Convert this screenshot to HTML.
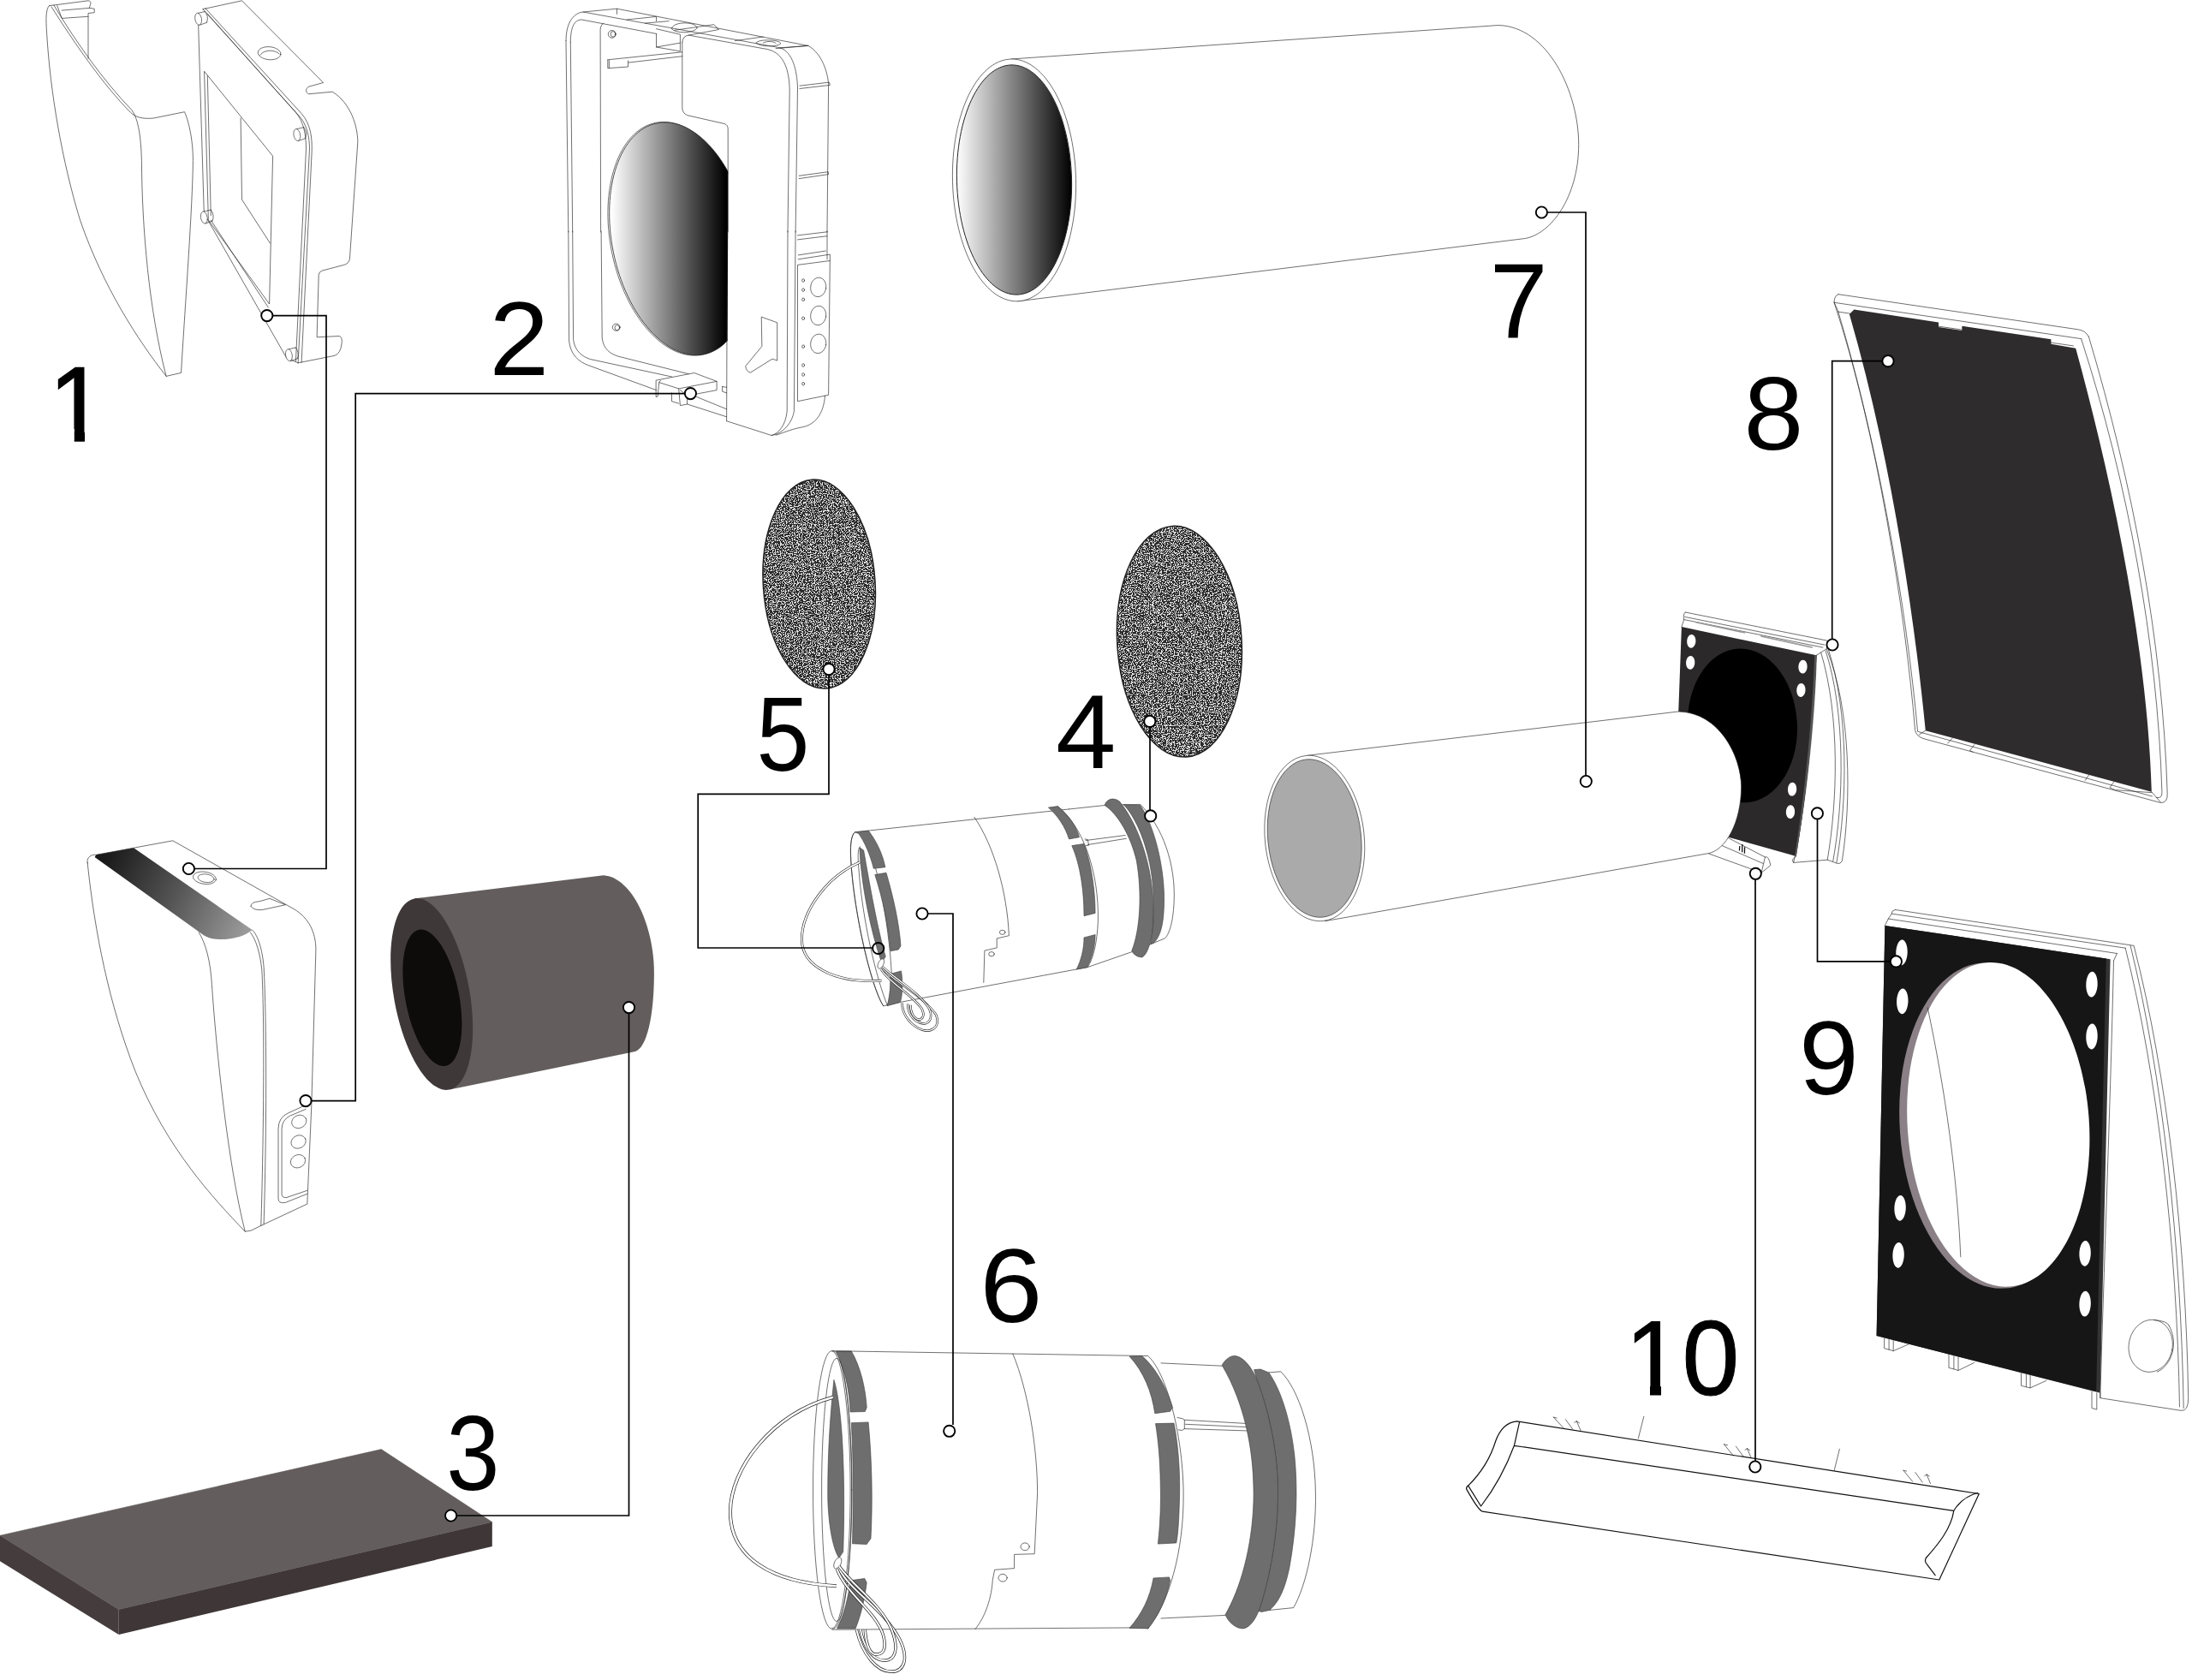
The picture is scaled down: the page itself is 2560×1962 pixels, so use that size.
<!DOCTYPE html>
<html><head><meta charset="utf-8"><title>Exploded view</title>
<style>
html,body{margin:0;padding:0;background:#fff;}
svg{display:block}
.o{fill:none;stroke:#222;stroke-width:.65;stroke-linejoin:round;stroke-linecap:round}
.w{fill:#fff;stroke:#222;stroke-width:.65;stroke-linejoin:round}
.g{fill:#6e6e6e;stroke:#3a3a3a;stroke-width:.6;stroke-linejoin:round}
.c{fill:none;stroke:#000;stroke-width:1.7;stroke-linejoin:miter}
.cc{fill:#fff;stroke:#000;stroke-width:1.9}
</style></head><body>
<svg width="2560" height="1962" viewBox="0 0 2560 1962">
<defs>
<linearGradient id="gd" gradientUnits="userSpaceOnUse" x1="1117" y1="0" x2="1252" y2="0"><stop offset="0" stop-color="#fff"/><stop offset="1" stop-color="#000"/></linearGradient>
<linearGradient id="gd2" gradientUnits="userSpaceOnUse" x1="714" y1="0" x2="848" y2="0"><stop offset="0" stop-color="#fff"/><stop offset="1" stop-color="#000"/></linearGradient>
<linearGradient id="gs" gradientUnits="userSpaceOnUse" x1="125" y1="1000" x2="290" y2="1080"><stop offset="0" stop-color="#1a1a1a"/><stop offset="0.5" stop-color="#555"/><stop offset="1" stop-color="#999"/></linearGradient>
<filter id="nz" x="0" y="0" width="1" height="1" color-interpolation-filters="sRGB">
<feTurbulence type="fractalNoise" baseFrequency="0.8" numOctaves="1" seed="7" result="t"/>
<feColorMatrix in="t" type="matrix" values="0 0 0 0 0.17  0 0 0 0 0.17  0 0 0 0 0.17  3 3 3 0 -3.87" result="m"/>
<feComponentTransfer in="m"><feFuncA type="discrete" tableValues="0 1"/></feComponentTransfer>
<feComposite in2="SourceGraphic" operator="in"/>
</filter>
</defs>
<rect width="2560" height="1962" fill="#fff"/>
<g>
<path class="o" d="M2147.1,343.7 Q2142.1,345.1 2142.1,353.3 L2147.1,364.2 M2147.1,343.7 L2426.9,384.8 Q2435.7,386.1 2439.2,393" /><path class="o" d="M2439.3,392.9 C2490.6,564.6 2525.7,749.1 2531.2,926.3 Q2531.9,938.1 2523.1,937.4 L2247,862.8 Q2237.8,859.9 2236.6,852.5 C2224.8,712.2 2191.6,501.8 2142.1,353.4" /><path class="o" d="M2430.8,396.2 C2485.1,564.6 2519.4,749.1 2524.9,924.5 Q2525.7,933 2518.3,931.5" /><path class="o" d="M2142.1,353.3 L2431,395.7 M2147.1,364.2 L2421.4,403.9" /><path class="o" d="M2146.9,364.1 C2195.3,527.7 2226.7,712.2 2239.6,854.3 L2513.5,930" /><path fill="#2e2c2c" d="M2165.4,361.5 L2264,376.6 L2264,382 L2291.4,386.1 L2291.4,380.7 L2395.4,396.3 L2395.4,401.8 L2424.2,406.7 C2477.7,601.5 2509.1,786 2512.8,924.8 L2248.8,853.2 C2234.1,704.8 2206.4,527.7 2159.9,367 Z"/><path class="o" d="M2248.8,853.2 L2241.4,858 M2512.8,924.8 L2523.1,936.6 M2280.2,862.1 L2274.7,868 M2306,869.5 L2300.5,876.5 L2304.2,878.3 M2439.7,904.9 L2435.2,911.5 M2468.5,913.4 L2464,919.7 L2470.3,922.6 L2512.8,925.6" />
</g>
<g>
<path class="o" d="M1968.2,715 Q1965.4,717.1 1966.7,723.6 L1963.9,732.1 M1968.2,715 L2134.2,748.2 L2133.2,757.8 L2121.4,765.3 M1966.7,723.6 L2128.9,756.1 M1967.6,720.4 L2131,753.1" /><path fill="#9a9a9a" d="M1980.4,725.7 L2038.3,738.1 L2038.3,739.8 L1980.4,727.4 Z M2056.3,742 L2116.7,755.3 L2116.7,757 L2056.3,743.7 Z"/><path class="o" d="M2133.2,757.8 C2162.1,828.5 2162.1,935.7 2151.4,1005.3 Q2149.2,1009.6 2144.9,1008.1 L2134.2,1004.2 L2094.6,1007.4 L2093.1,1004.2 L2097.8,999.9" /><path class="o" d="M2126.7,762.1 C2149.2,837.1 2146,935.7 2134.2,1004.2 M2132.1,760 C2155.7,832.8 2153.5,935.7 2140.7,1005.9 M2135.3,758.3 C2159.5,832.8 2157.4,935.7 2144.9,1007.6" /><path class="o" d="M2121.4,765.3 C2119.2,850 2106.4,957.1 2094.6,1007.4" /><path fill="#2b2929" d="M1963.9,732.1 L2121.4,765.3 C2118.2,850 2108.5,935.7 2097.8,999.9 L2014.3,976.4 L1956.4,935.7 Z"/><path fill="#555" d="M2121.4,765.3 C2118.2,850 2108.5,935.7 2097.8,999.9 L2096.1,999.5 C2106.4,935.7 2116,850 2119.2,764.9 Z"/><path class="" d="M2098.8,844.1C2101.4,893.7 2074.9,935.4 2039.7,937.3C2004.5,939.1 1973.8,900.4 1971.2,850.7C1968.6,801.1 1995.1,759.4 2030.3,757.5C2065.5,755.7 2096.2,794.4 2098.8,844.1Z" fill="#000"/><path class="" d="M1980.4,749.1C1980.2,753.4 1977.7,756.9 1974.9,756.7C1972.0,756.6 1969.9,752.9 1970.2,748.5C1970.4,744.2 1972.9,740.7 1975.7,740.9C1978.6,741.0 1980.7,744.7 1980.4,749.1Z" fill="#fff"/><path class="" d="M1979.3,774.2C1979.1,778.5 1976.6,782.0 1973.8,781.8C1970.9,781.7 1968.8,778.0 1969.1,773.6C1969.3,769.3 1971.8,765.8 1974.6,766.0C1977.5,766.1 1979.6,769.8 1979.3,774.2Z" fill="#fff"/><path class="" d="M2110.6,778.9C2110.4,783.2 2107.9,786.7 2105.1,786.5C2102.2,786.4 2100.1,782.7 2100.4,778.3C2100.6,774.0 2103.1,770.5 2105.9,770.7C2108.8,770.8 2110.9,774.5 2110.6,778.9Z" fill="#fff"/><path class="" d="M2108.5,806.3C2108.3,810.6 2105.8,814.1 2103.0,813.9C2100.1,813.8 2098.0,810.1 2098.3,805.7C2098.5,801.4 2101.0,797.9 2103.8,798.1C2106.7,798.2 2108.8,801.9 2108.5,806.3Z" fill="#fff"/><path class="" d="M2098.2,922.0C2098.0,926.3 2095.5,929.8 2092.7,929.6C2089.8,929.5 2087.7,925.8 2088.0,921.4C2088.2,917.1 2090.7,913.6 2093.5,913.8C2096.4,913.9 2098.5,917.6 2098.2,922.0Z" fill="#fff"/><path class="" d="M2096.1,948.4C2095.9,952.7 2093.4,956.2 2090.6,956.0C2087.7,955.9 2085.6,952.2 2085.9,947.8C2086.1,943.5 2088.6,940.0 2091.4,940.2C2094.3,940.3 2096.4,944.0 2096.1,948.4Z" fill="#fff"/><path class="o" d="M2014.3,976.4 L2061.4,1001 Q2065.7,998.9 2067.8,1010.6 L2057.1,1019.2 L1995,996.7 M2061.4,1001 L2057.1,1019.2 M2010,987.1 L2059.3,1008.5" /><path fill="none" stroke="#111" stroke-width="1.3" d="M2031.4,993.5 L2031.8,988.1 M2034.6,995.2 L2034.8,986 M2037.4,996.7 L2037.6,989.2"/><path class="w" d="M1526.7,882.3 L1960.1,831 C2008.6,832 2033.6,884 2033.6,918.7 C2033.6,960.3 2015.5,993.2 1994.7,996.7 L1547.5,1075.7 Z"/><path class="w" d="M1592.9,972.9C1598.5,1026.3 1577.3,1072.2 1545.4,1075.5C1513.6,1078.9 1483.3,1038.4 1477.7,985.1C1472.1,931.7 1493.3,885.8 1525.2,882.5C1557.0,879.1 1587.3,919.6 1592.9,972.9Z" /><path class="" d="M1589.3,973.3C1594.7,1024.2 1574.8,1067.9 1544.9,1071.1C1515.0,1074.2 1486.4,1035.5 1481.1,984.7C1475.7,933.8 1495.6,890.1 1525.5,886.9C1555.4,883.8 1584.0,922.5 1589.3,973.3Z" fill="#aaaaaa" stroke="#444" stroke-width="0.8"/>
</g>
<g>
<path class="o" d="M2213.2,1062.4 L2492.1,1104.4 C2531.3,1255.7 2552.9,1452.1 2555.7,1632.7 Q2555.7,1648.4 2547,1647.3 L2452.8,1632.7 L2452.8,1626.8" /><path class="o" d="M2488.1,1104.4 C2525.4,1255.7 2547,1452.1 2550.2,1644.5 M2482.2,1107.2 C2519.5,1255.7 2542.3,1452.1 2545.5,1642.9 M2209.3,1067.1 L2482.2,1107.2 M2205.3,1073 L2472.4,1113.5 M2472.4,1113.5 L2468.5,1122.1 M2213.2,1062.4 Q2208.5,1064 2209.3,1067.1 L2205.3,1073 L2201.4,1080.9" /><path class="o" d="M2468.5,1122.1 C2464.6,1294.9 2456.7,1491.3 2452.8,1632.7" /><path fill="#333" d="M2201.4,1080.9 L2464.6,1120.2 L2452.8,1626.8 L2191.6,1560.1 Z"/><path fill="#161616" d="M2201.4,1080.9 L2459.8,1119.4 L2448.1,1624.9 L2191.6,1560.1 Z"/><path class="" d="M2437.6,1307.0C2445.0,1411.9 2402.0,1500.4 2341.6,1504.6C2281.2,1508.9 2226.3,1427.2 2219.0,1322.2C2211.6,1217.3 2254.6,1128.8 2315.0,1124.6C2375.4,1120.3 2430.3,1202.0 2437.6,1307.0Z" fill="#8a8085"/><path class="" d="M2439.6,1306.0C2446.9,1410.5 2405.5,1498.6 2347.0,1502.6C2288.6,1506.7 2235.3,1425.3 2228.0,1320.8C2220.7,1216.3 2262.1,1128.2 2320.6,1124.2C2379.0,1120.1 2432.3,1201.5 2439.6,1306.0Z" fill="#fff"/><path class="o" d="M2251.3,1177.1 C2272.1,1275.3 2285.8,1373.5 2289.8,1467.8" /><path class="" d="M2227.7,1112.5C2227.4,1120.8 2224.2,1127.3 2220.5,1127.2C2216.8,1127.1 2214.0,1120.3 2214.3,1112.1C2214.6,1103.8 2217.8,1097.3 2221.5,1097.4C2225.2,1097.5 2228.0,1104.3 2227.7,1112.5Z" fill="#fff"/><path class="" d="M2228.5,1169.5C2228.2,1177.8 2225.0,1184.3 2221.3,1184.2C2217.6,1184.1 2214.8,1177.3 2215.1,1169.1C2215.4,1160.8 2218.6,1154.3 2222.3,1154.4C2226.0,1154.5 2228.8,1161.3 2228.5,1169.5Z" fill="#fff"/><path class="" d="M2225.8,1411.0C2225.5,1419.3 2222.3,1425.8 2218.6,1425.7C2214.9,1425.6 2212.1,1418.8 2212.4,1410.6C2212.7,1402.3 2215.9,1395.8 2219.6,1395.9C2223.3,1396.0 2226.1,1402.8 2225.8,1411.0Z" fill="#fff"/><path class="" d="M2223.8,1466.0C2223.5,1474.3 2220.3,1480.8 2216.6,1480.7C2212.9,1480.6 2210.1,1473.8 2210.4,1465.6C2210.7,1457.3 2213.9,1450.8 2217.6,1450.9C2221.3,1451.0 2224.1,1457.8 2223.8,1466.0Z" fill="#fff"/><path class="" d="M2449.7,1149.8C2449.4,1158.1 2446.2,1164.6 2442.5,1164.5C2438.8,1164.4 2436.0,1157.6 2436.3,1149.4C2436.6,1141.1 2439.8,1134.6 2443.5,1134.7C2447.2,1134.8 2450.0,1141.6 2449.7,1149.8Z" fill="#fff"/><path class="" d="M2449.7,1210.7C2449.4,1219.0 2446.2,1225.5 2442.5,1225.4C2438.8,1225.3 2436.0,1218.5 2436.3,1210.3C2436.6,1202.0 2439.8,1195.5 2443.5,1195.6C2447.2,1195.7 2450.0,1202.5 2449.7,1210.7Z" fill="#fff"/><path class="" d="M2441.8,1464.0C2441.5,1472.3 2438.3,1478.8 2434.6,1478.7C2430.9,1478.6 2428.1,1471.8 2428.4,1463.6C2428.7,1455.3 2431.9,1448.8 2435.6,1448.9C2439.3,1449.0 2442.1,1455.8 2441.8,1464.0Z" fill="#fff"/><path class="" d="M2441.8,1522.9C2441.5,1531.2 2438.3,1537.7 2434.6,1537.6C2430.9,1537.5 2428.1,1530.7 2428.4,1522.5C2428.7,1514.2 2431.9,1507.7 2435.6,1507.8C2439.3,1507.9 2442.1,1514.7 2441.8,1522.9Z" fill="#fff"/><path class="o" d="M2536.8,1576.2C2533.9,1592.9 2520.3,1604.4 2506.4,1602.0C2492.5,1599.5 2483.6,1584.0 2486.6,1567.4C2489.5,1550.7 2503.1,1539.2 2517.0,1541.6C2530.9,1544.1 2539.8,1559.6 2536.8,1576.2Z" /><path class="o" d="M2515.6,1541.6 Q2531.3,1542.4 2533.3,1548.3 M2533.3,1548.3 C2545.1,1569.9 2535.3,1595.4 2519.5,1602.1" /><path class="o" d="M2200.6,1562.8 L2200.6,1574.6 L2206.1,1576.2 L2206.1,1564 M2211.2,1565.2 L2211.2,1577.7 L2206.1,1576.2 M2211.2,1577.7 L2228.9,1569.9 M2276,1581.7 L2276,1597.4 L2281.9,1598.9 L2281.9,1583.6 M2287,1584.8 L2287,1600.5 L2281.9,1598.9 M2287,1600.5 L2305.5,1591.5 M2360.5,1603.7 L2360.5,1618.2 L2366.4,1619.8 L2366.4,1605.2 M2371.1,1606.4 L2371.1,1620.9 L2366.4,1619.8 M2371.1,1620.9 L2389.9,1612.3 M2443,1624.9 L2443,1644.5 L2448.8,1646.1 L2448.8,1626.8" />
</g>
<g>
<path class="w" d="M1180.7,69 L1749.8,29.5 C1807.3,30.7 1843.7,107.3 1843.7,168.6 C1843.7,229.9 1811.1,274 1780.4,278.6 L1188.4,351.8 Z"/><path class="w" d="M1256.5,208.5C1258.6,286.6 1228.0,350.7 1188.2,351.8C1148.4,352.8 1114.5,290.4 1112.5,212.3C1110.4,134.2 1141.0,70.1 1180.8,69.0C1220.6,68.0 1254.5,130.4 1256.5,208.5Z" /><path class="" d="M1251.5,208.2C1253.5,282.3 1225.0,343.1 1188.0,344.1C1151.0,345.0 1119.4,285.8 1117.5,211.8C1115.5,137.7 1144.0,76.9 1181.0,75.9C1218.0,75.0 1249.6,134.2 1251.5,208.2Z" fill="url(#gd)" stroke="#222" stroke-width="1"/>
</g>
<g>
<clipPath id="cp2"><path d="M640,0 L850.2,0 L850.2,269.3 L849.4,443.4 L640,443.4 Z"/></clipPath><g clip-path="url(#cp2)"><path class="w" d="M871.8,262.8C887.0,337.6 864.1,405.4 820.8,414.2C777.4,423.1 729.8,369.6 714.6,294.8C699.4,220.0 722.3,152.2 765.6,143.4C809.0,134.5 856.6,188.0 871.8,262.8Z" /><path class="" d="M872.8,262.9C888.0,337.4 865.3,405.0 822.1,413.7C778.9,422.5 731.5,369.2 716.4,294.7C701.2,220.2 723.9,152.6 767.1,143.9C810.3,135.1 857.7,188.4 872.8,262.9Z" fill="url(#gd2)" stroke="#222" stroke-width="0.8"/></g><path class="o" d="M661,47.6 C661,24.6 671.2,14.8 681.1,14 L911,55.8 C925.8,60.8 930.7,82.1 931.5,101.8 L929.1,271" /><path class="o" d="M929.1,270 L927.4,480.2 C925.8,491.7 915.9,506.5 901.1,508.5 L848.6,491.7 M920,270 L919.2,480.2 C917.6,496.6 909.3,506.5 901.1,508.5" /><path class="o" d="M661,47.6 L663.8,271 M666.3,49.3 C666.3,27.9 672.8,23 679.4,23 L766.5,39.4 M666.3,49.3 L668.7,271 M701.6,271 L701.1,34.5 Q701.6,28.7 704.9,27.1" /><path class="o" d="M663.8,270 L664.6,398.1 C666.3,414.5 676.1,422.7 687.6,426.8 L766.5,455.6 M668.7,270 L669.6,396.5 C671.2,409.6 679.4,416.2 689.3,419.5 L784.5,440 M702.1,270 L703.2,394.8 C704.9,408 712.3,412.9 722.1,416.2 L804.2,436.7" /><path class="o" d="M796.8,49.3 Q797.3,41.9 804.2,41.1 L896.2,57.5 C917.6,62.4 921.7,85.4 922.2,105.1 L920,271 M796.8,49.3 L796.8,124.8 C796.8,131.4 800.1,133.9 804.2,135 L846.1,144.5 Q850.2,146.2 850.2,150.3 L850.2,271" /><path class="o" d="M849.4,270 L848.6,491.7" /><path class="o" d="M681.1,14 L720.5,10.2 L720.5,16.4 M720.5,10.2 L943.8,53.4 M911,55.8 L943.8,53.4 C960.3,62.4 966.8,85.4 967.6,98.5 L966,271 M934,100.2 L968.5,96.1 L969.3,99.4 L934,103.5 M933.2,205.3 L967.2,200.7 L967.6,203.6 L933.2,208.6" /><path class="o" d="M732,23 L766.5,19.4 L766.5,24.6 M753.3,27.1 L781.2,24.6 M766.5,39.4 L766.5,55 L794.4,59.9 L794.4,40.2 L766.5,33.7 M766.5,55 L794.4,50.1 M784.5,33.7 C784.5,24.6 814.1,24.6 814.1,32.8 M784.5,33.7 C787.8,39.4 810.8,39.4 814.1,32.8 M787.8,35.3 L833.8,28.7 L839.5,34.5 L804.2,41.1 M858.4,47.6 L891.3,43 M883.1,50.1 C884.7,45.2 911,46 911.8,50.9 C909.3,55 886.4,55 883.1,50.1 M891.3,50.1 C894.6,47.6 904.4,48 906.1,50.6 M906.1,56.7 L943.8,53.4" /><path class="o" d="M709.8,69.8 L796.8,60.8 M709.8,69.8 L709.8,79.7 L733.6,78 L733.6,70.9 M711.4,70.6 L711.4,79.2 M733.9,73.1 L796.8,65.7" /><ellipse class="o" cx="714.7" cy="39.9" rx="4.4" ry="4.4" /><ellipse class="o" cx="716" cy="39.9" rx="2.8" ry="3.3" /><ellipse class="o" cx="719.7" cy="382.2" rx="4.4" ry="4.1" /><ellipse class="o" cx="720.8" cy="382.7" rx="2.8" ry="3" /><path class="o" d="M966,270 L966,302.8 M931.5,274.9 L966,270.8 M931.5,279.9 L966,275.7 M932.3,297.9 L964.4,293 M932.3,302.8 L969.3,297.1 L969.3,304.5 L967.6,461.3 L931.5,468.7 L931.5,309.4 L969.3,304.5 M963.5,462.2 C961.9,483.5 952,496.6 935.6,499.1 C922.5,501.6 912.6,506.5 906.1,508.1" /><path class="o" d="M964.6,336.7C963.8,342.8 959.1,347.2 954.1,346.5C949.2,345.8 945.9,340.3 946.8,334.1C947.6,328.0 952.3,323.6 957.3,324.3C962.2,325.0 965.5,330.5 964.6,336.7Z" /><path class="o" d="M964.6,369.8C963.8,375.9 959.1,380.3 954.1,379.6C949.2,378.9 945.9,373.4 946.8,367.2C947.6,361.1 952.3,356.7 957.3,357.4C962.2,358.1 965.5,363.6 964.6,369.8Z" /><path class="o" d="M964.6,402.7C963.8,408.8 959.1,413.2 954.1,412.5C949.2,411.8 945.9,406.3 946.8,400.1C947.6,394.0 952.3,389.6 957.3,390.3C962.2,391.0 965.5,396.5 964.6,402.7Z" /><ellipse class="o" cx="938.1" cy="327.5" rx="1.5" ry="1.8" /><ellipse class="o" cx="938.1" cy="338.6" rx="1.5" ry="1.8" /><ellipse class="o" cx="938.1" cy="349.8" rx="1.5" ry="1.8" /><ellipse class="o" cx="938.1" cy="371.8" rx="1.5" ry="1.8" /><ellipse class="o" cx="938.1" cy="404.7" rx="1.5" ry="1.8" /><ellipse class="o" cx="938.1" cy="426.5" rx="1.5" ry="1.8" /><ellipse class="o" cx="938.1" cy="437.5" rx="1.5" ry="1.8" /><ellipse class="o" cx="938.1" cy="448.2" rx="1.5" ry="1.8" /><path class="o" d="M889.6,370.2 L907.7,376.8 L907.7,421.1 L902,419.1 L876.5,435.1 Q871.6,434.2 870.7,427.7 L889.6,404.7 Z" /><path class="o" d="M766.5,444.1 L810.8,435.5 L837.1,445.4 L837.1,455.6 L802.6,462.2 L802.6,472 L794.4,473.6 L792.7,453.9 L769.7,446.6 L768.1,463 L766.5,463.5 Z M769.7,446.6 L771.4,444.4 M792.7,453.9 L837.1,445.4 M802.6,462.2 L794.4,455.6 M784.5,458.9 L784.5,468.7 L792.7,471.2 M802.6,472 L848.6,486.8 M812.4,463 L848.6,477.8 M843.6,451.5 L848.6,452.3 M843.6,451.5 L843.6,457.2 L848.6,458.9" />
</g>
<g>
<path class="o" d="M57.4,6.7 L103,0.8 Q107,1.3 105.6,5.4 L104.3,9.4 L110.2,10.2 L110.2,14.7 L103,15.5 L103,68.3 M57.4,6.7 C53.4,10.7 53.4,21.4 54.7,40.2 C58.8,107.2 72.2,187.5 93.6,257.2 C120.4,334.9 160.6,396.5 194.1,439.4 L211.5,435.4 C216.8,348.3 224.9,241.1 225.4,187.5 C225.4,160.8 219.5,139.3 215.5,130.7 L179.3,138 C165.9,139.3 157.9,136.6 152.5,131.3 C120.4,99.1 85.5,48.2 60.1,8 M62.8,5.9 C88.2,48.2 120.4,93.8 153.9,128.6 C161.9,139.3 164.6,160.8 165.4,187.5 C165.9,267.9 174,361.7 194.1,439.4 M66.8,6.7 L72.2,21.4 L103,19.3 M72.2,12.1 L104.3,9.4" /><path class="o" d="M236.9,10.7 L282.5,0.8 L377.6,96.5 L360.2,101.3 Q354.8,105.8 360.2,109.8 L388.3,107.2 C409.7,120.6 417.8,147.4 417.8,166.1 L408.4,302.7 Q407,308.1 401.7,309.4 L376.2,316.1 Q372.2,317.5 372.2,321.5 L370.1,393.8 L396.3,392.5 Q400.3,393.8 399,401.9 Q397.7,412.6 391,415.3 L348.1,423.8" /><path class="o" d="M231.6,26.8 L238.3,249.2 L334.7,418 L348.1,423.8 M236.9,10.7 L348.1,134 C358.8,144.7 361.5,160.8 361.5,174.1 L348.1,423.8 M239.6,9.4 L352.1,132.6 C362.8,144.7 364.7,160.8 364.2,176.8 L352.1,423.3 M242.3,16.1 L345.4,131.3 C354.8,142 357.5,158.1 357.5,174.1 L345.4,422" /><path class="o" d="M238.8,83.6 L318.6,182.2 L314.6,355 L243.6,257.2 Z M281.1,138 L282.5,233.1 L315.4,284 M242.3,88.4 L246.3,251.8 M246.3,257.2 L313.3,359" /><path class="o" d="M327.9,63.4C327.6,67.5 321.3,70.3 313.9,69.7C306.6,69.0 300.9,65.2 301.3,61.0C301.6,56.9 307.9,54.1 315.3,54.7C322.6,55.4 328.3,59.2 327.9,63.4Z" /><path class="o" d="M303.9,64.3 C307.9,57.6 321.3,57.6 326.1,63" /><path class="w" d="M235.3,21.5C236.0,25.3 234.8,28.7 232.8,29.1C230.8,29.4 228.6,26.6 227.9,22.9C227.2,19.1 228.4,15.7 230.4,15.3C232.4,15.0 234.6,17.8 235.3,21.5Z" /><path class="o" d="M231.6,15.3 L239.6,13.4 M233.4,29.2 L241.5,26.3" /><path class="o" d="M239.6,13.4 Q244.2,19.3 241.5,26.3" /><path class="w" d="M350.5,156.8C351.2,160.6 350.0,164.0 348.0,164.4C346.0,164.7 343.8,161.9 343.1,158.2C342.4,154.4 343.6,151.0 345.6,150.6C347.6,150.3 349.8,153.1 350.5,156.8Z" /><path class="o" d="M346.8,150.6 L354.8,148.7 M348.6,164.5 L356.7,161.6" /><path class="o" d="M354.8,148.7 Q359.4,154.6 356.7,161.6" /><path class="w" d="M242.0,253.3C242.7,257.1 241.5,260.5 239.5,260.9C237.5,261.2 235.3,258.4 234.6,254.7C233.9,250.9 235.1,247.5 237.1,247.1C239.1,246.8 241.3,249.6 242.0,253.3Z" /><path class="o" d="M238.3,247 L246.3,245.1 M240.1,261 L248.2,258" /><path class="o" d="M246.3,245.1 Q250.9,251 248.2,258" /><path class="w" d="M341.1,414.0C341.8,417.8 340.6,421.2 338.6,421.6C336.6,421.9 334.4,419.1 333.7,415.4C333.0,411.6 334.2,408.2 336.2,407.8C338.2,407.5 340.4,410.3 341.1,414.0Z" /><path class="o" d="M337.4,407.8 L345.4,405.9 M339.3,421.7 L347.3,418.8" /><path class="o" d="M345.4,405.9 Q350,411.8 347.3,418.8" />
</g>
<g>
<path fill="url(#gs)" d="M112.3,998.3 L156.2,990.2 L294.6,1086.1 C286.2,1092.8 276.1,1096.2 262.6,1096.9 C249.1,1097.6 242.3,1095.5 235.5,1090.5 L110.6,1001 Z"/><path class="o" d="M102.2,1007.8 C100.5,1001 107.3,997.6 112.3,998.3 L156.2,990.2 L201.8,981.8 L343.6,1061.8 C360.5,1071.9 368.9,1088.8 368.9,1109.1 L363.8,1291.4 L358.8,1406.1 L308.1,1429.8 L292.9,1437.2 L286.2,1438.2 C249.1,1399.4 195,1342 157.9,1250.8 C127.5,1173.2 110.6,1088.8 102.2,1007.8 Z" /><path class="o" d="M308.1,1429.8 C311.5,1325.1 311.5,1190.1 308.1,1129.3 C306.4,1109.1 301.4,1092.2 294.6,1086.1 M286.2,1438.2 C265.9,1358.9 252.4,1223.8 247.4,1149.6 C245.7,1122.6 240.6,1102.3 232.2,1088.8 M304.8,1431.5 C308.1,1325.1 309.1,1190.1 305.8,1132.7 C303.7,1112.4 299,1097.2 292.3,1088.8" /><path class="o" d="M252.3,1027.2C251.7,1031.1 245.3,1033.4 237.9,1032.3C230.5,1031.3 225.0,1027.3 225.5,1023.4C226.1,1019.5 232.5,1017.2 239.9,1018.3C247.3,1019.3 252.8,1023.3 252.3,1027.2Z" /><path class="o" d="M250.0,1027.0C249.6,1029.6 245.1,1031.1 239.9,1030.4C234.8,1029.7 230.9,1027.0 231.2,1024.4C231.6,1021.8 236.1,1020.3 241.3,1021.0C246.4,1021.7 250.3,1024.4 250.0,1027.0Z" /><path class="o" d="M292.9,1058.4 Q292.9,1053.3 303.1,1052.7 L314.9,1049.3 L333.4,1056.7 L306.4,1062.5 Q296.3,1063.5 292.9,1058.4" /><path class="o" d="M358.8,1289.7 L336.8,1299.8 Q325,1304.9 325,1318.4 L325,1399.4 Q325,1406.1 333.4,1404.4 L358.8,1394.3 M357.1,1295.4 L338.5,1303.2 Q329.1,1308.2 329.1,1318.4 L329.1,1395.3 Q330.1,1399.4 335.1,1398.4 L358.8,1390.3" /><path class="o" d="M357.3,1306.2C359.0,1309.9 356.8,1314.6 352.4,1316.6C348.0,1318.7 343.1,1317.3 341.3,1313.6C339.6,1309.9 341.8,1305.2 346.2,1303.2C350.6,1301.1 355.5,1302.5 357.3,1306.2Z" /><path class="o" d="M356.6,1329.8C358.3,1333.5 356.1,1338.2 351.7,1340.2C347.3,1342.3 342.4,1340.9 340.6,1337.2C338.9,1333.5 341.1,1328.8 345.5,1326.8C349.9,1324.7 354.8,1326.1 356.6,1329.8Z" /><path class="o" d="M356.0,1352.5C357.7,1356.2 355.5,1360.9 351.1,1362.9C346.7,1365.0 341.8,1363.6 340.0,1359.9C338.3,1356.2 340.5,1351.5 344.9,1349.5C349.3,1347.4 354.2,1348.8 356.0,1352.5Z" />
</g>
<g>
<path fill="#635e5d" d="M484.9,1049.3 L704.8,1022.3 C738.6,1024.7 763.9,1082 763.9,1136.1 C763.9,1186.7 755.4,1223.8 741.9,1227.9 L524.8,1272.6 Z"/><path class="" d="M547.7,1153.1C558.9,1214.7 548.5,1268.2 524.5,1272.6C500.5,1277.0 471.9,1230.5 460.7,1168.9C449.5,1107.3 459.9,1053.8 483.9,1049.4C507.9,1045.0 536.5,1091.5 547.7,1153.1Z" fill="#3f3838"/><path class="" d="M535.7,1159.3C544.3,1203.2 537.4,1241.5 520.4,1244.8C503.3,1248.1 482.6,1215.2 474.1,1171.3C465.5,1127.4 472.4,1089.1 489.4,1085.8C506.5,1082.5 527.2,1115.4 535.7,1159.3Z" fill="#0e0b0b"/><path fill="#635e5d" stroke="#635e5d" stroke-width="0.6" d="M0,1793.3 L445.3,1692.6 L574.8,1777.6 L138.7,1879.8 Z"/><path fill="#453d3d" d="M0,1793.3 L138.7,1879.8 L138.7,1909 L0,1823.2 Z"/><path fill="#3f3737" d="M138.7,1879.8 L574.8,1777.6 L574.8,1806.1 L138.7,1909 Z"/>
</g>
<g>
<path class="" d="M1021.9,677.7C1026.4,745.0 1001.0,801.6 965.0,804.0C929.0,806.5 896.1,753.9 891.5,686.5C887.0,619.2 912.4,562.6 948.4,560.2C984.4,557.7 1017.3,610.3 1021.9,677.7Z" fill="#e2e2e2"/><path class="" d="M1021.9,677.7C1026.4,745.0 1001.0,801.6 965.0,804.0C929.0,806.5 896.1,753.9 891.5,686.5C887.0,619.2 912.4,562.6 948.4,560.2C984.4,557.7 1017.3,610.3 1021.9,677.7Z" fill="#2c2c2c" filter="url(#nz)"/><path class="" d="M1021.9,677.7C1026.4,745.0 1001.0,801.6 965.0,804.0C929.0,806.5 896.1,753.9 891.5,686.5C887.0,619.2 912.4,562.6 948.4,560.2C984.4,557.7 1017.3,610.3 1021.9,677.7Z" fill="none" stroke="#222" stroke-width="1.5"/><path class="" d="M1449.9,744.8C1454.5,819.2 1425.7,881.5 1385.6,884.0C1345.6,886.4 1309.4,828.1 1304.9,753.6C1300.3,679.2 1329.1,616.9 1369.2,614.4C1409.2,612.0 1445.4,670.3 1449.9,744.8Z" fill="#e2e2e2"/><path class="" d="M1449.9,744.8C1454.5,819.2 1425.7,881.5 1385.6,884.0C1345.6,886.4 1309.4,828.1 1304.9,753.6C1300.3,679.2 1329.1,616.9 1369.2,614.4C1409.2,612.0 1445.4,670.3 1449.9,744.8Z" fill="#2c2c2c" filter="url(#nz)"/><path class="" d="M1449.9,744.8C1454.5,819.2 1425.7,881.5 1385.6,884.0C1345.6,886.4 1309.4,828.1 1304.9,753.6C1300.3,679.2 1329.1,616.9 1369.2,614.4C1409.2,612.0 1445.4,670.3 1449.9,744.8Z" fill="none" stroke="#222" stroke-width="1.5"/>
</g>
<g>
<path class="w" d="M998.8,971.8 L1014.2,970.1 L1290.1,940.5 L1331.7,939.4 C1358,965.7 1373.3,1009.5 1371.1,1053.3 C1370,1079.6 1364.5,1092.7 1360.1,1096 L1322.9,1111.3 L1270.4,1129.5 L1051.4,1170.4 L1031.7,1174.8 C1016.4,1151.8 994.5,1053.3 993.4,994.2 C993.4,981 995.5,973.4 998.8,971.8 Z"/><path class="o" d="M998.8,971.8 C995.5,973.4 993.4,981 993.4,994.2 C994.5,1053.3 1016.4,1151.8 1031.7,1174.8 M1004.3,988.7 C1001,992 1002.1,1005.1 1003.2,1018.2 C1007.6,1075.2 1022.9,1140.9 1036.1,1173.7 M1007.6,972.3 C1022.9,998.5 1038.2,1075.2 1041.5,1140.9 C1042.2,1158.4 1040.4,1169.3 1036.1,1173.7" /><path fill="none" stroke="#222" stroke-width="2.9" d="M1004.3,1006.9 C964.9,1023.7 936.4,1064.7 936.4,1097.1 C936.4,1128.8 975.2,1148.5 1029.5,1145.3"/><path fill="none" stroke="#fff" stroke-width="1.7" d="M1004.3,1006.9 C964.9,1023.7 936.4,1064.7 936.4,1097.1 C936.4,1128.8 975.2,1148.5 1029.5,1145.3"/><path class="g" d="M1003.9,989.8 C1005.4,1031.4 1016.4,1086.1 1029.5,1123.8 L1034.3,1117.2 C1025.1,1086.1 1015.3,1031.4 1008.7,993.1 Z"/><path class="g" d="M998.8,971.8 L1014.2,970.1 C1022.9,981 1030.6,996.4 1033.9,1012.8 L1020.3,1014.3 C1016.4,998.5 1009.8,983.2 1002.8,973.6 Z M1021.8,1021.5 L1035,1019.3 C1043.7,1048.9 1050.3,1079.6 1052,1104.7 L1049.2,1109.1 L1040,1110.7 C1037.2,1079.6 1030.6,1048.9 1021.8,1021.5 Z M1039.3,1137.6 L1052.5,1133.9 C1054.7,1147.4 1054,1162.8 1051.4,1170.4 L1036.1,1174.8 C1039.3,1162.8 1040.4,1149.6 1039.3,1137.6 Z"/><path class="o" d="M1137.9,954.3 C1160.9,987.6 1176.2,1042.3 1178.4,1092.7 L1164.2,1096 L1164.2,1106.9 L1149.9,1110.2 L1148.8,1147.4" /><ellipse class="o" cx="1170.7" cy="1088.8" rx="3.3" ry="2.6" /><ellipse class="o" cx="1158" cy="1114.2" rx="3.3" ry="2.6" /><path class="o" d="M1235.3,941.6 C1266,965.7 1283.5,1020.4 1282.4,1075.2 C1281.3,1101.5 1276.9,1119 1270.4,1129.5 M1248.5,944.9 L1248.5,944.9" /><path class="g" d="M1224.4,943.1 L1235.3,941.6 C1248.5,952.6 1257.2,965.7 1260.5,977.7 L1248.5,979.9 C1244.1,965.7 1235.3,952.6 1224.4,943.1 Z M1251.8,987.6 L1266,985.4 C1274.7,1009.5 1279.1,1040.1 1279.1,1066.4 L1266,1069.7 C1266,1040.1 1261.6,1009.5 1251.8,987.6 Z M1266,1094.9 L1279.1,1091.6 C1279.1,1105.8 1274.7,1121.2 1269.3,1129.9 L1257.2,1132.1 C1262.7,1121.2 1266,1108 1266,1094.9 Z"/><path class="o" d="M1268.2,981.5 L1314.2,975.5 M1270.4,986.5 L1315.3,979.3 M1267.1,979.9 L1270.4,980.6 L1271.5,987.2 L1268.2,987.6" /><path class="g" d="M1290.1,940.5 C1292.3,932.8 1301,930.7 1307.6,936.1 C1331.7,965.7 1349.2,1020.4 1347,1075.2 C1345.9,1097.1 1340.4,1114.6 1333.9,1117.9 C1327.3,1117.9 1322.9,1113.5 1321.8,1110.2 C1331.7,1086.1 1333.9,1042.3 1327.3,1005.1 C1320.7,976.6 1305.4,950.4 1290.1,940.5 Z"/><path class="g" d="M1312,939.4 L1331.7,940.5 C1349.2,965.7 1362.3,1020.4 1359.1,1064.2 C1358,1086.1 1352.5,1097.1 1347,1101.5 L1343.7,1102.6 C1349.2,1075.2 1349.2,1031.4 1340.4,998.5 C1333.9,972.3 1322.9,950.4 1312,939.4 Z"/><path class="w" d="M1031.6,1126.8C1030.1,1129.9 1027.7,1131.8 1026.2,1131.1C1024.7,1130.3 1024.6,1127.3 1026.0,1124.2C1027.5,1121.1 1029.9,1119.2 1031.4,1119.9C1032.9,1120.7 1033.0,1123.7 1031.6,1126.8Z" /><path fill="none" stroke="#222" stroke-width="2.5" d="M1029.5,1129.9 C1042.6,1145.3 1077.7,1162.8 1093,1184.7 C1099.6,1200 1086.4,1208.8 1071.1,1200 C1060.1,1193.4 1053.6,1182.5 1053.6,1171.5"/><path fill="none" stroke="#fff" stroke-width="1.3" d="M1029.5,1129.9 C1042.6,1145.3 1077.7,1162.8 1093,1184.7 C1099.6,1200 1086.4,1208.8 1071.1,1200 C1060.1,1193.4 1053.6,1182.5 1053.6,1171.5"/><path fill="none" stroke="#222" stroke-width="2.5" d="M1030.6,1128.8 C1044.8,1143.1 1073.3,1158.4 1085.3,1178.1 C1090.8,1191.2 1083.1,1197.8 1074.4,1194.5 C1065.6,1191.2 1060.1,1182.5 1060.1,1172.6"/><path fill="none" stroke="#fff" stroke-width="1.3" d="M1030.6,1128.8 C1044.8,1143.1 1073.3,1158.4 1085.3,1178.1 C1090.8,1191.2 1083.1,1197.8 1074.4,1194.5 C1065.6,1191.2 1060.1,1182.5 1060.1,1172.6"/><path fill="none" stroke="#222" stroke-width="2.5" d="M1029.1,1132.1 C1038.2,1147.4 1064.5,1160.6 1076.6,1178.1 C1080.9,1186.9 1076.6,1192.3 1071.1,1190.1 C1065.6,1188 1063.4,1180.3 1063.4,1173.7"/><path fill="none" stroke="#fff" stroke-width="1.3" d="M1029.1,1132.1 C1038.2,1147.4 1064.5,1160.6 1076.6,1178.1 C1080.9,1186.9 1076.6,1192.3 1071.1,1190.1 C1065.6,1188 1063.4,1180.3 1063.4,1173.7"/>
</g>
<g>
<path fill="#fff" d="M971.9,1577.7 L1339.9,1583.5 L1427.7,1594.6 L1454.7,1588.5 L1486.7,1602 L1498.6,1602.7 C1522.2,1629.1 1536.4,1693.2 1535.7,1743.8 C1535,1797.8 1522.2,1855.2 1501.9,1878.9 L1490.1,1878.9 L1461.4,1895.7 L1431,1885.6 L1346.6,1889 L1341.6,1900.8 L971.9,1903.2 C958.4,1878.9 950,1811.4 950,1740.5 C950,1669.6 958.4,1602 971.9,1577.7 Z"/><ellipse class="w" cx="973" cy="1739.9" rx="22" ry="162.2" /><ellipse class="w" cx="971.3" cy="1739.9" rx="21.8" ry="162.2" /><ellipse class="o" cx="977.1" cy="1739.9" rx="17.5" ry="153.6" /><path class="g" d="M973.9,1611.4 C969.2,1655.7 966.3,1703.5 966.8,1751.4 C968,1787.2 973.9,1811.1 979.9,1819.5 L984.7,1812.3 C985.9,1775.3 986.4,1727.4 983.5,1679.6 C981.1,1643.7 977.5,1622.2 973.9,1611.4 Z"/><path class="g" d="M976.3,1577.9 L994.3,1577.9 C1005,1595.9 1011,1622.2 1012.2,1643.7 L1010.3,1648.5 L993.1,1649 C991.9,1622.2 985.9,1595.9 976.3,1577.9 Z M994.3,1661.7 L1014.1,1660.9 C1018.2,1703.5 1019.4,1751.4 1017,1796.8 L1012.2,1803.5 L995.5,1802.8 C996.7,1751.4 996.7,1703.5 994.3,1661.7 Z M993.1,1845.8 L1009.8,1843.4 L1012.2,1848.2 C1009.8,1868.6 1005,1887.7 999.1,1902 L977.5,1902 C985.9,1885.3 990.7,1866.2 993.1,1845.8 Z"/><path fill="none" stroke="#222" stroke-width="4" d="M972.8,1631.8 C899.8,1652.1 852.9,1715.5 852.9,1765.7 C852.9,1818.3 899.8,1848.2 976.8,1852.3"/><path fill="none" stroke="#fff" stroke-width="2.6" d="M972.8,1631.8 C899.8,1652.1 852.9,1715.5 852.9,1765.7 C852.9,1818.3 899.8,1848.2 976.8,1852.3"/><path class="o" d="M971.9,1577.7 L1339.9,1583.5 M971.9,1903.2 L1341.6,1900.8" /><path class="o" d="M1182.9,1581.1 C1201.5,1625.7 1211.6,1693.2 1211.6,1743.8 L1208.2,1814.7 L1184.6,1815.4 L1184.6,1831.6 L1161.6,1833.3 L1159.3,1845.1 C1157.6,1872.1 1147.5,1892.4 1139,1902.5" /><ellipse class="o" cx="1197.1" cy="1806.3" rx="5.1" ry="4.4" /><ellipse class="o" cx="1171.1" cy="1842.7" rx="5.1" ry="4.4" /><path class="o" d="M1340.5,1583.3 C1361.9,1601.9 1381,1673.3 1382.1,1742.4 C1382.9,1813.8 1364.3,1873.3 1340.5,1902.4 M1356,1591.9 L1427.4,1595.2 M1356,1890 L1431,1886.4" /><path class="g" d="M1319,1584 L1333.3,1583.3 C1347.6,1594.8 1361.9,1618.6 1369.5,1643.6 L1366.7,1648.3 L1348.8,1650.7 C1345.2,1625.7 1335.7,1601.9 1319,1584 Z M1349.5,1662.6 L1371,1662.1 C1376.2,1687.6 1378.6,1721 1377.4,1754.3 C1376.7,1778.1 1375.7,1792.4 1373.8,1801.9 L1352.4,1803.1 C1355.2,1778.1 1356,1754.3 1355.2,1730.5 C1354.8,1706.7 1352.9,1682.9 1349.5,1662.6 Z M1347.1,1842.9 L1365.5,1841.9 L1366.7,1846 C1361.9,1868.6 1352.4,1887.6 1340.5,1901.9 L1319,1901.4 C1333.3,1885.2 1342.9,1866.2 1347.1,1842.9 Z"/><path class="o" d="M1383.3,1658.3 L1458.3,1662.6 M1383.3,1668.6 L1458.3,1671 M1384.5,1663.3 L1458.3,1666.7 M1375,1655.5 L1381,1656.7 L1383.3,1658.3 L1383.3,1668.6 L1380.5,1670.5 L1376.2,1669.8" /><path class="w" d="M1481.8,1602.9 L1495.7,1601.8 C1517.1,1622.1 1535.4,1680 1536.4,1742.1 C1537.5,1797.9 1525.7,1851.4 1510.7,1877.6 L1482.9,1880.4 Z"/><path class="g" d="M1464.6,1599.6 L1472.1,1599 L1481.8,1602.9 C1496.8,1624.3 1507.5,1660.7 1511.8,1699.3 C1516.1,1742.1 1513.9,1785 1506.4,1827.9 C1501.1,1855.7 1493.6,1870.7 1482.9,1880.4 L1473.2,1882.5 L1470,1881.4 C1482.9,1845 1492.5,1791.4 1492.5,1742.1 C1492.5,1699.3 1482.9,1650 1467.9,1611.4 Z"/><path class="g" d="M1427.1,1594.3 C1431.4,1586.8 1437.9,1582.5 1443.2,1583.6 C1452.9,1585.3 1461.4,1596.4 1467.9,1611.4 C1482.9,1650 1492.5,1699.3 1492.5,1742.1 C1492.5,1791.4 1482.9,1845 1470,1881.4 C1463.6,1897.5 1455,1902.9 1449.6,1901.8 C1442.1,1900.7 1434.6,1894.3 1431,1885.7 C1448.6,1855.7 1462.5,1806.4 1464,1752.9 C1465.3,1699.3 1455,1641.4 1427.1,1594.3 Z"/><path class="w" d="M981.8,1827.1C980.1,1830.7 977.2,1832.9 975.3,1832.0C973.4,1831.1 973.2,1827.5 974.8,1823.9C976.5,1820.3 979.4,1818.1 981.3,1819.0C983.2,1819.9 983.4,1823.5 981.8,1827.1Z" /><path fill="none" stroke="#222" stroke-width="3.4" d="M978.7,1830.3 C993.1,1859 1031.4,1878.1 1050.5,1914 C1062.4,1937.9 1055.3,1952.3 1040.9,1952.3 C1024.2,1952.3 1007.4,1933.1 1000.3,1903.2"/><path fill="none" stroke="#fff" stroke-width="2" d="M978.7,1830.3 C993.1,1859 1031.4,1878.1 1050.5,1914 C1062.4,1937.9 1055.3,1952.3 1040.9,1952.3 C1024.2,1952.3 1007.4,1933.1 1000.3,1903.2"/><path fill="none" stroke="#222" stroke-width="3.4" d="M979.9,1829.1 C997.9,1854.2 1026.6,1870.9 1040.9,1902 C1050.5,1926 1045.7,1940.3 1031.4,1939.1 C1017,1937.9 1007.4,1918.8 1005,1903.2"/><path fill="none" stroke="#fff" stroke-width="2" d="M979.9,1829.1 C997.9,1854.2 1026.6,1870.9 1040.9,1902 C1050.5,1926 1045.7,1940.3 1031.4,1939.1 C1017,1937.9 1007.4,1918.8 1005,1903.2"/><path fill="none" stroke="#222" stroke-width="3.4" d="M977.5,1832.7 C988.3,1861.4 1021.8,1880.5 1031.4,1909.2 C1036.1,1926 1031.4,1933.1 1021.8,1931.9 C1014.6,1930.7 1011,1916.4 1010.3,1903.2"/><path fill="none" stroke="#fff" stroke-width="2" d="M977.5,1832.7 C988.3,1861.4 1021.8,1880.5 1031.4,1909.2 C1036.1,1926 1031.4,1933.1 1021.8,1931.9 C1014.6,1930.7 1011,1916.4 1010.3,1903.2"/>
</g>
<g>
<path class="w" style="stroke:#111;stroke-width:1.2" d="M1771.5,1659.8 L2311.3,1744.5 L2264.8,1845 L1731.2,1765.2 Q1726.5,1763.7 1712.6,1738.9 Q1712.6,1735.8 1714.7,1735.1 C1732.7,1717.2 1742,1698.5 1746.7,1683 Q1754.5,1661.3 1771.5,1659.8 Z"/><path class="o" style="stroke:#111;stroke-width:1.2" d="M1774.6,1660.7 L1768.4,1688.3 L2281.8,1764.3 C2288,1754.4 2297.3,1746.6 2309.7,1743.5 M2281.8,1764.3 C2278.7,1785.4 2263.2,1804 2249.3,1819.5 Q2247.1,1824.2 2250.8,1827.3 L2260.1,1839.7 M1714.7,1735.1 L1729.6,1759 C1745.1,1738.9 1757.6,1717.2 1768.4,1688.3"/><path class="o" d="M1919.8,1654.2 L1913.3,1679.9 M2148.4,1692.3 L2142.2,1717.2 M1814.3,1655.1 L1825.8,1667.5 M1828.3,1657.6 L1836.7,1669.1 M1841.3,1659.8 L1846,1670.6 M1841.3,1659.8 L1838.8,1661.3 M1841.3,1659.8 L1844.4,1661.9 M1814.3,1655.1 L1818,1656 M2013.5,1686.8 L2024.3,1700.1 M2027.4,1689.2 L2036.1,1701 M2040.5,1691.7 L2045.1,1702.3 M2040.5,1691.7 L2038,1693.3 M2040.5,1691.7 L2043.6,1693.6 M2013.5,1686.8 L2017.5,1687.7 M2222.9,1717.2 L2233.7,1730.2 M2236.8,1719.6 L2245.2,1731.1 M2250.2,1722.1 L2254.5,1732.7 M2250.2,1722.1 L2247.7,1723.7 M2250.2,1722.1 L2253.3,1724 M2222.9,1717.2 L2226.6,1718.1" />
</g>
<g>
<path class="c" d="M311.8,368.6 H381 V1014.5 H220.4"/><path class="c" d="M357,1285.6 H415.2 V459.6 H806.4"/><path class="c" d="M734.5,1176.6 V1770 H526.6"/><path class="c" d="M1343,842.4 V952.9"/><path class="c" d="M968,781.6 V927.3 H815.2 V1107 H1019"/><path class="c" d="M1077,1067 H1113 V1664"/><path class="c" d="M1800.4,248 H1852 V912.5"/><path class="c" d="M2205,421.7 H2139.7 V753"/><path class="c" d="M2122.5,950 V1122.9 H2214.4"/><path class="c" d="M2050,1020.3 V1713"/><circle class="cc" cx="311.8" cy="368.6" r="6.6"/><circle class="cc" cx="220.4" cy="1014.5" r="6.6"/><circle class="cc" cx="357" cy="1285.6" r="6.6"/><circle class="cc" cx="806.4" cy="459.6" r="6.6"/><circle class="cc" cx="734.5" cy="1176.6" r="6.6"/><circle class="cc" cx="526.6" cy="1770" r="6.6"/><circle class="cc" cx="1342.8" cy="842.4" r="6.6"/><circle class="cc" cx="1343.7" cy="952.9" r="6.6"/><circle class="cc" cx="968" cy="781.6" r="6.6"/><circle class="cc" cx="1077" cy="1067" r="6.6"/><circle class="cc" cx="1108.7" cy="1671.3" r="6.6"/><circle class="cc" cx="1800.4" cy="248" r="6.6"/><circle class="cc" cx="1852.3" cy="912.5" r="6.6"/><circle class="cc" cx="2205" cy="421.7" r="6.6"/><circle class="cc" cx="2140" cy="753" r="6.6"/><circle class="cc" cx="2122.4" cy="949.9" r="6.6"/><circle class="cc" cx="2214.4" cy="1122.9" r="6.6"/><circle class="cc" cx="2050.3" cy="1020.3" r="6.6"/><circle class="cc" cx="2049.8" cy="1713" r="6.6"/><circle cx="1025.7" cy="1107.5" r="6.6" fill="none" stroke="#000" stroke-width="2"/><clipPath id="c1"><path d="M60,425H99V517H86.8V501H60Z"/></clipPath><clipPath id="c10"><path d="M1900,1535H1940V1632H1927V1614H1900Z M1962,1535H2040V1640H1962Z"/></clipPath><g clip-path="url(#c1)"><text transform="translate(57.1 515.4) scale(1.2 1.243)" font-family="Liberation Sans,sans-serif" font-size="100" fill="#000" stroke="#000" stroke-width="1.2">1</text></g><g clip-path="url(#c10)"><text transform="translate(1897.8 1628.8) scale(1.2 1.234)" font-family="Liberation Sans,sans-serif" font-size="100" fill="#000" stroke="#000" stroke-width="0.8">10</text></g><text transform="translate(571.6 437.5) scale(1.252 1.228)" font-family="Liberation Sans,sans-serif" font-size="100" fill="#000">2</text><text transform="translate(521.3 1739.8) scale(1.118 1.236)" font-family="Liberation Sans,sans-serif" font-size="100" fill="#000">3</text><text transform="translate(1232.9 896.5) scale(1.266 1.217)" font-family="Liberation Sans,sans-serif" font-size="100" fill="#000">4</text><text transform="translate(883.6 899.8) scale(1.112 1.232)" font-family="Liberation Sans,sans-serif" font-size="100" fill="#000">5</text><text transform="translate(1144.2 1543.5) scale(1.317 1.216)" font-family="Liberation Sans,sans-serif" font-size="100" fill="#000">6</text><text transform="translate(1739.8 394.0) scale(1.220 1.243)" font-family="Liberation Sans,sans-serif" font-size="100" fill="#000">7</text><text transform="translate(2036.6 524.8) scale(1.255 1.201)" font-family="Liberation Sans,sans-serif" font-size="100" fill="#000">8</text><text transform="translate(2101.1 1277.8) scale(1.255 1.218)" font-family="Liberation Sans,sans-serif" font-size="100" fill="#000">9</text>
</g>
</svg>
</body></html>
